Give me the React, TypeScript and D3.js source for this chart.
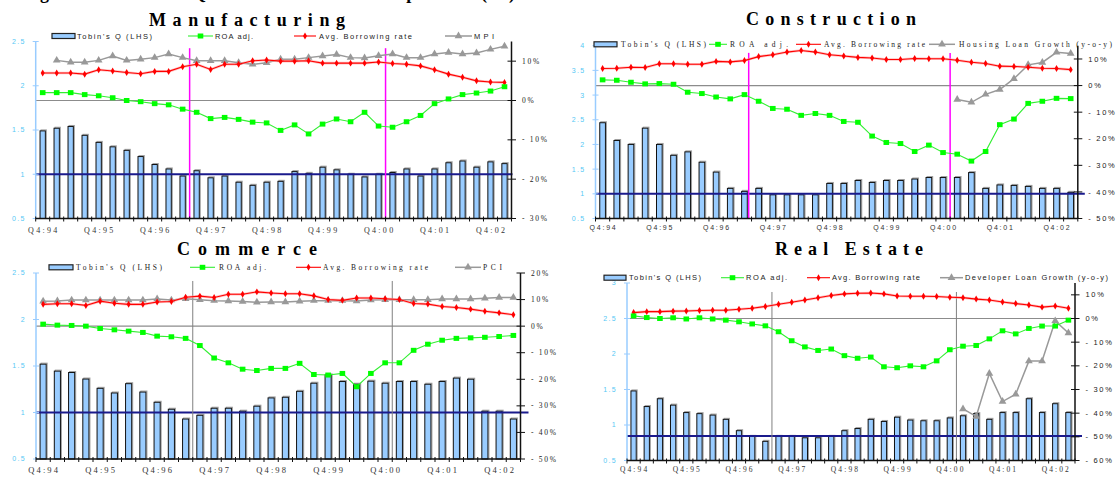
import React from 'react';
import * as d3 from 'd3';

const quarters = [
  'Q4:94', 'Q1:95', 'Q2:95', 'Q3:95', 'Q4:95', 'Q1:96', 'Q2:96', 'Q3:96', 'Q4:96',
  'Q1:97', 'Q2:97', 'Q3:97', 'Q4:97', 'Q1:98', 'Q2:98', 'Q3:98', 'Q4:98',
  'Q1:99', 'Q2:99', 'Q3:99', 'Q4:99', 'Q1:00', 'Q2:00', 'Q3:00', 'Q4:00',
  'Q1:01', 'Q2:01', 'Q3:01', 'Q4:01', 'Q1:02', 'Q2:02', 'Q3:02', 'Q4:02', 'Q1:03',
];

const N = null;

// Manufacturing
const mfgQ = [1.49, 1.52, 1.54, 1.44, 1.36, 1.31, 1.27, 1.2, 1.11, 1.06, 0.98, 1.04, 0.96, 0.98, 0.91, 0.875, 0.91, 0.92, 1.03, 1.01, 1.08, 1.05, 1.0, 0.97, 1.0, 1.02, 1.06, 0.98, 1.06, 1.13, 1.15, 1.08, 1.14, 1.12];
const mfgROA = [2.0, 2.0, 2.0, 1.5, 1.2, 0.7, 0.0, -0.3, -0.8, -1.1, -2.2, -3.0, -4.6, -4.3, -4.8, -5.5, -5.7, -7.6, -6.2, -8.5, -6.0, -4.7, -5.4, -3.0, -6.5, -6.8, -5.4, -3.8, -0.8, 0.4, 1.5, 1.9, 2.4, 3.5];
const mfgRate = [7.0, 7.0, 7.0, 6.7, 7.8, 7.5, 7.1, 6.8, 7.4, 7.4, 8.6, 9.2, 7.9, 9.2, 9.2, 10.1, 10.3, 10.0, 10.0, 10.1, 9.5, 9.5, 9.5, 9.5, 9.8, 9.4, 9.2, 8.8, 7.8, 6.7, 5.9, 5.0, 4.7, 4.6];
const mfgMPI = [N, 10.2, 9.7, 9.7, 10.2, 11.3, 10.2, 10.5, 10.9, 11.8, 10.9, 10.1, 10.1, 10.1, 9.6, 9.2, 9.6, 10.5, 10.5, 10.9, 11.3, 11.7, 10.9, 10.8, 11.4, 11.8, 10.9, 10.9, 11.8, 12.2, 11.8, 12.1, 13.0, 13.8];
const mfgEvents = [11, 25];
const mfgEventTop = 13.3;
const mfgLeftTicks = [0.5, 1, 1.5, 2, 2.5];
const mfgRightTicks = [-30, -20, -10, 0, 10];

// Construction
const conQ = [2.44, 2.08, 2.0, 2.33, 2.0, 1.78, 1.85, 1.64, 1.44, 1.11, 1.05, 1.11, 0.98, 0.98, 0.98, 0.98, 1.21, 1.21, 1.27, 1.23, 1.27, 1.27, 1.3, 1.33, 1.33, 1.33, 1.43, 1.11, 1.18, 1.17, 1.15, 1.11, 1.11, 1.03];
const conROA = [2.15, 2.0, 1.25, 0.64, 0.75, 0.49, -2.5, -3.0, -4.3, -5.0, -3.4, -5.9, -8.6, -8.9, -11.2, -10.5, -11.2, -13.5, -13.8, -19.0, -21.4, -21.8, -24.8, -22.4, -25.2, -25.8, -28.4, -24.8, -14.7, -12.6, -6.7, -5.9, -4.8, -4.9];
const conRate = [6.4, 6.5, 6.9, 6.8, 8.2, 8.2, 8.0, 8.0, 9.1, 8.9, 9.4, 10.9, 11.6, 12.6, 13.2, 12.6, 11.6, 11.1, 10.6, 10.4, 9.8, 9.8, 10.2, 10.1, 10.1, 9.5, 8.8, 8.3, 7.3, 7.2, 6.9, 6.5, 6.4, 6.0];
const conHousing = [N, N, N, N, N, N, N, N, N, N, N, N, N, N, N, N, N, N, N, N, N, N, N, N, N, -5.2, -6.3, -3.3, -1.5, 2.6, 7.8, 8.7, 12.5, 12.1];
const conEvents = [10.8, 25];
const conEventTop = 12.3;
const conLeftTicks = [0.5, 1, 1.5, 2, 2.5, 3, 3.5, 4];
const conRightTicks = [-50, -40, -30, -20, -10, 0, 10];

// Commerce
const comQ = [1.52, 1.445, 1.43, 1.36, 1.26, 1.21, 1.31, 1.22, 1.11, 1.035, 0.93, 0.97, 1.046, 1.046, 1.014, 1.068, 1.157, 1.164, 1.228, 1.315, 1.405, 1.333, 1.304, 1.337, 1.315, 1.333, 1.333, 1.304, 1.333, 1.37, 1.358, 1.014, 1.014, 0.93];
const comROA = [0.75, 0.38, 0.26, 0, -0.88, -1.38, -1.88, -2.37, -3.76, -4.0, -4.6, -7.3, -12.0, -13.8, -16.2, -16.7, -15.9, -15.9, -14.0, -18.2, -18.4, -17.8, -22.8, -17.8, -13.8, -13.8, -9.1, -6.8, -5.3, -4.6, -4.4, -4.2, -3.9, -3.5];
const comRate = [8.2, 8.4, 8.4, 7.8, 9.4, 8.6, 8.2, 8.2, 9.1, 9.3, 10.9, 11.3, 10.8, 12.0, 12.0, 12.9, 12.5, 12.2, 12.2, 11.4, 10.0, 9.7, 10.6, 10.6, 10.3, 10.0, 8.5, 8.3, 7.4, 7.0, 6.4, 5.6, 5.0, 4.3];
const comPCI = [9.4, 9.5, 9.8, 9.8, 9.8, 9.8, 9.8, 9.8, 10.2, 9.8, 10.3, 9.9, 9.6, 9.5, 9.3, 9.0, 9.1, 9.1, 9.4, 9.6, 9.6, 9.6, 9.5, 9.8, 9.9, 9.9, 9.9, 9.9, 10.2, 10.2, 10.2, 10.5, 10.8, 10.8];
const comEvents = [11, 25];
const comEventTop = 17;
const comLeftTicks = [0.5, 1, 1.5, 2, 2.5];
const comRightTicks = [-50, -40, -30, -20, -10, 0, 10, 20];

// Real Estate
const reQ = [1.48, 1.26, 1.37, 1.28, 1.175, 1.16, 1.14, 1.08, 0.92, 0.84, 0.77, 0.84, 0.84, 0.82, 0.82, 0.84, 0.92, 0.95, 1.08, 1.05, 1.11, 1.07, 1.06, 1.06, 1.1, 1.13, 1.16, 1.08, 1.175, 1.175, 1.37, 1.175, 1.3, 1.175];
const reROA = [1.1, 0.4, 0, 0.3, -0.2, 0.3, -0.2, -0.7, -1.4, -2.3, -3.1, -5.6, -9.4, -12.0, -13.5, -12.9, -15.7, -16.8, -16.3, -20.4, -20.8, -20.0, -20.4, -17.9, -13.2, -11.7, -11.4, -8.6, -5.2, -6.5, -4.2, -3.2, -3.2, -0.7];
const reRate = [2.5, 2.9, 2.9, 3.1, 3.2, 3.4, 3.5, 3.5, 3.9, 4.3, 5.1, 6.0, 6.9, 7.8, 8.8, 9.7, 10.4, 10.7, 10.8, 10.4, 9.5, 9.4, 9.4, 9.3, 9.0, 8.8, 8.2, 7.8, 7.0, 6.3, 5.7, 4.8, 5.3, 4.3];
const reDev = [N, N, N, N, N, N, N, N, N, N, N, N, N, N, N, N, N, N, N, N, N, N, N, N, N, -38.2, -41.4, -23.2, -35.1, -32.0, -18.0, -18.0, -1.0, -6.1];
const reEvents = [11, 25];
const reEventTop = 11.2;
const reLeftTicks = [0.5, 1, 1.5, 2, 2.5, 3];
const reRightTicks = [-60, -50, -40, -30, -20, -10, 0, 10];

const legendQ = "Tobin's Q (LHS)";
const legendROA = 'ROA adj.';
const legendRate = 'Avg. Borrowing rate';
const figureTitle = "Figure 5: Tobin's Q and Sectoral Developments (%)";

const SANS = 'Arial, "Liberation Sans", Helvetica, sans-serif';
const SERIF = '"Times New Roman", "Liberation Serif", Times, serif';

type Span = [number, number];
type PanelCfg = {
  title: string; titleSpan: Span; titleY: number;
  x0: number; x1: number; yTop: number; yBot: number;
  leftDomain: [number, number]; leftTicks: number[];
  rightDomain: [number, number]; rightTicks: number[];
  q: number[]; roa: number[]; rate: number[]; other: (number | null)[]; otherName: string;
  qRef: number; events: number[]; eventTop: number; eventColor: string; eventWidth: number;
  barFrac: number; navyExt: number;
  legendY: number; legendFont: string;
  lg: { sw: Span; q: Span; roaL: Span; roa: Span; rateL: Span; rate: Span; othL: Span; oth: Span };
  xFont: string; xDy: number; xSize: number; xSpacing: number; rightFont: string;
};

const panels: PanelCfg[] = [
  {
    title: 'Manufacturing', titleSpan: [149, 345], titleY: 25.5,
    x0: 35.7, x1: 511.5, yTop: 41.5, yBot: 218.5,
    leftDomain: [0.5, 2.5], leftTicks: mfgLeftTicks, rightDomain: [-30, 15], rightTicks: mfgRightTicks,
    q: mfgQ, roa: mfgROA, rate: mfgRate, other: mfgMPI, otherName: 'MPI',
    qRef: 1, events: mfgEvents, eventTop: mfgEventTop, eventColor: '#ff00ff', eventWidth: 1.5,
    barFrac: 0.38, navyExt: 1,
    legendY: 36, legendFont: SANS,
    lg: { sw: [52, 75], q: [77, 152], roaL: [188, 213], roa: [215, 253], rateL: [294, 316], rate: [319, 412], othL: [445, 472], oth: [474, 494] },
    xFont: SERIF, xDy: 14.5, xSize: 8, xSpacing: 2.3, rightFont: SERIF,
  },
  {
    title: 'Construction', titleSpan: [746, 916], titleY: 25,
    x0: 595.5, x1: 1077.8, yTop: 45.7, yBot: 218.5,
    leftDomain: [0.5, 4], leftTicks: conLeftTicks, rightDomain: [-50, 15], rightTicks: conRightTicks,
    q: conQ, roa: conROA, rate: conRate, other: conHousing, otherName: 'Housing Loan Growth (y-o-y)',
    qRef: 1, events: conEvents, eventTop: conEventTop, eventColor: '#ff00ff', eventWidth: 1.5,
    barFrac: 0.4, navyExt: 7,
    legendY: 44.3, legendFont: SERIF,
    lg: { sw: [594, 617], q: [621, 706], roaL: [709, 727], roa: [730, 788], rateL: [796, 821], rate: [824, 925], othL: [929, 955], oth: [959, 1112] },
    xFont: SANS, xDy: 11, xSize: 7, xSpacing: 1.8, rightFont: SANS,
  },
  {
    title: 'Commerce', titleSpan: [177, 317], titleY: 255,
    x0: 36, x1: 520.5, yTop: 273, yBot: 459,
    leftDomain: [0.5, 2.5], leftTicks: comLeftTicks, rightDomain: [-50, 20], rightTicks: comRightTicks,
    q: comQ, roa: comROA, rate: comRate, other: comPCI, otherName: 'PCI',
    qRef: 1, events: comEvents, eventTop: comEventTop, eventColor: '#808080', eventWidth: 1,
    barFrac: 0.43, navyExt: 8,
    legendY: 267.3, legendFont: SERIF,
    lg: { sw: [49, 73], q: [76, 162], roaL: [190, 215], roa: [219, 266], rateL: [296, 321], rate: [323, 428], othL: [455, 481], oth: [483, 502] },
    xFont: SERIF, xDy: 14, xSize: 8.5, xSpacing: 2.1, rightFont: SERIF,
  },
  {
    title: 'Real Estate', titleSpan: [775, 923], titleY: 255,
    x0: 627, x1: 1075, yTop: 283, yBot: 460.5,
    leftDomain: [0.5, 3], leftTicks: reLeftTicks, rightDomain: [-60, 15], rightTicks: reRightTicks,
    q: reQ, roa: reROA, rate: reRate, other: reDev, otherName: 'Developer Loan Growth (y-o-y)',
    qRef: 0.845, events: reEvents, eventTop: reEventTop, eventColor: '#808080', eventWidth: 1,
    barFrac: 0.4, navyExt: 7,
    legendY: 277.7, legendFont: SANS,
    lg: { sw: [604, 626], q: [629, 701], roaL: [721, 744], roa: [746, 787], rateL: [807, 830], rate: [832, 920], othL: [940, 963], oth: [965, 1108] },
    xFont: SERIF, xDy: 11.5, xSize: 7.5, xSpacing: 2.1, rightFont: SANS,
  },
];

const BAR_FILL = '#99ccff';
const GREEN = '#00ff00';
const RED = '#ff0000';
const GREY = '#999999';
const NAVY = '#1a1a8c';
const LEFT_AX = '#99ccff';
const LEFT_LBL = '#55c8f5';

const triPath = d3.symbol().type(d3.symbolTriangle).size(26)() as string;
const diaPath = d3.symbol().type(d3.symbolDiamond).size(14)() as string;

type Pt = { i: number; v: number | null };

function Series({ vals, cx, y, kind }: { vals: (number | null)[]; cx: (i: number) => number; y: d3.ScaleLinear<number, number>; kind: 'roa' | 'rate' | 'oth' }) {
  const pts: Pt[] = vals.map((v, i) => ({ i, v }));
  const line = d3.line<Pt>().defined((d) => d.v != null).x((d) => cx(d.i)).y((d) => y(d.v as number));
  const d = line(pts) || '';
  const present = pts.filter((p) => p.v != null);
  if (kind === 'roa') {
    return (
      <g>
        <path d={d} fill="none" stroke="#33ee33" strokeWidth={1.1} />
        {present.map((p) => (
          <rect key={p.i} x={cx(p.i) - 2.8} y={y(p.v as number) - 2.5} width={5.6} height={5} fill={GREEN} />
        ))}
      </g>
    );
  }
  if (kind === 'rate') {
    return (
      <g>
        <path d={d} fill="none" stroke="#ff9a9a" strokeWidth={2.6} strokeOpacity={0.6} />
        <path d={d} fill="none" stroke={RED} strokeWidth={1.1} />
        {present.map((p) => (
          <path key={p.i} d={diaPath} transform={`translate(${cx(p.i)},${y(p.v as number)})`} fill={RED} />
        ))}
      </g>
    );
  }
  return (
    <g>
      <path d={d} fill="none" stroke={GREY} strokeWidth={1.5} />
      {present.map((p) => (
        <path key={p.i} d={triPath} transform={`translate(${cx(p.i)},${y(p.v as number)})`} fill={GREY} />
      ))}
    </g>
  );
}

function LegendText({ span, y, text, font }: { span: Span; y: number; text: string; font: string }) {
  return (
    <text x={span[0]} y={y + 2.6} textLength={span[1] - span[0]} lengthAdjust="spacing" fontSize={7.5} fontFamily={font} fill="#222">
      {text}
    </text>
  );
}

function Panel({ p }: { p: PanelCfg }) {
  const idx = d3.range(quarters.length);
  const x = d3.scaleBand<number>().domain(idx).range([p.x0, p.x1]).padding(0);
  const bw = x.bandwidth();
  const cx = (i: number) => (x(i) as number) + bw / 2;
  const yL = d3.scaleLinear().domain(p.leftDomain).range([p.yBot, p.yTop]);
  const yR = d3.scaleLinear().domain(p.rightDomain).range([p.yBot, p.yTop]);
  const barW = bw * p.barFrac;
  const boundaries = d3.range(quarters.length + 1).map((k) => p.x0 + k * bw);
  const ly = p.legendY;
  const lg = p.lg;
  const mid = (s: Span) => (s[0] + s[1]) / 2;

  return (
    <g>
      <text x={p.titleSpan[0]} y={p.titleY} textLength={p.titleSpan[1] - p.titleSpan[0]} lengthAdjust="spacing"
        fontFamily={SERIF} fontWeight="bold" fontSize={18} fill="#000">{p.title}</text>

      {p.q.map((v, i) => (
        <g key={i}>
          <rect x={cx(i) - barW / 2 + 1} y={yL(v) - 1} width={barW} height={p.yBot - yL(v)} fill="none" stroke="#a0a0a0" strokeWidth={1} />
          <rect x={cx(i) - barW / 2} y={yL(v)} width={barW} height={p.yBot - yL(v)} fill={BAR_FILL} stroke="#111" strokeWidth={1} />
        </g>
      ))}

      <line x1={p.x0} x2={p.x1} y1={yR(0)} y2={yR(0)} stroke="#8c8c8c" strokeWidth={1.2} />

      <line x1={p.x0} x2={p.x1 + p.navyExt} y1={yL(p.qRef)} y2={yL(p.qRef)} stroke={NAVY} strokeWidth={2} />

      {p.events.map((e, k) => (
        <line key={k} x1={p.x0 + e * bw} x2={p.x0 + e * bw} y1={yR(p.eventTop)} y2={p.yBot} stroke={p.eventColor} strokeWidth={p.eventWidth} />
      ))}

      <Series vals={p.other} cx={cx} y={yR} kind="oth" />
      <Series vals={p.rate} cx={cx} y={yR} kind="rate" />
      <Series vals={p.roa} cx={cx} y={yR} kind="roa" />

      <line x1={p.x0} x2={p.x0} y1={p.yTop} y2={p.yBot} stroke={LEFT_AX} strokeWidth={1.5} />
      {p.leftTicks.map((t) => (
        <g key={t}>
          <line x1={p.x0 - 3} x2={p.x0 + 3} y1={yL(t)} y2={yL(t)} stroke={LEFT_AX} strokeWidth={1} />
          <text x={p.x0 - 10} y={yL(t)} dy="0.35em" textAnchor="end" fontFamily={SANS} fontSize={7} letterSpacing={1.3} fill={LEFT_LBL}>
            {String(t)}
          </text>
        </g>
      ))}

      <line x1={p.x1} x2={p.x1} y1={p.yTop} y2={p.yBot} stroke="#111" strokeWidth={1.5} />
      {p.rightTicks.map((t) => (
        <g key={t}>
          <line x1={p.x1 - 4} x2={p.x1 + 4.5} y1={yR(t)} y2={yR(t)} stroke="#111" strokeWidth={1} />
          <text x={p.x1 + 10.5} y={yR(t)} dy="0.35em" fontFamily={p.rightFont} fontSize={7.5} letterSpacing={1.7} fill="#222">
            {t < 0 ? `- ${Math.abs(t)}%` : `${t}%`}
          </text>
        </g>
      ))}

      <line x1={p.x0} x2={p.x1} y1={p.yBot} y2={p.yBot} stroke="#111" strokeWidth={1.5} />
      {boundaries.map((bx, k) => (
        <line key={k} x1={bx} x2={bx} y1={p.yBot - 2} y2={p.yBot + 3} stroke="#111" strokeWidth={1} />
      ))}
      {quarters.map((q, i) =>
        q.startsWith('Q4') ? (
          <text key={q} x={cx(i) + p.xSpacing / 2} y={p.yBot + p.xDy} textAnchor="middle" fontFamily={p.xFont} fontSize={p.xSize} letterSpacing={p.xSpacing} fill="#333">
            {q}
          </text>
        ) : null
      )}

      <rect x={lg.sw[0]} y={ly - 2.5} width={lg.sw[1] - lg.sw[0]} height={5} fill={BAR_FILL} stroke="#222" strokeWidth={1.2} />
      <LegendText span={lg.q} y={ly} text={legendQ} font={p.legendFont} />
      <line x1={lg.roaL[0]} x2={lg.roaL[1]} y1={ly} y2={ly} stroke="#33ee33" strokeWidth={1.1} />
      <rect x={mid(lg.roaL) - 2.8} y={ly - 2.5} width={5.6} height={5} fill={GREEN} />
      <LegendText span={lg.roa} y={ly} text={legendROA} font={p.legendFont} />
      <line x1={lg.rateL[0]} x2={lg.rateL[1]} y1={ly} y2={ly} stroke={RED} strokeWidth={1.1} />
      <path d={diaPath} transform={`translate(${mid(lg.rateL)},${ly})`} fill={RED} />
      <LegendText span={lg.rate} y={ly} text={legendRate} font={p.legendFont} />
      <line x1={lg.othL[0]} x2={lg.othL[1]} y1={ly} y2={ly} stroke={GREY} strokeWidth={1.5} />
      <path d={triPath} transform={`translate(${mid(lg.othL)},${ly})`} fill={GREY} />
      <LegendText span={lg.oth} y={ly} text={p.otherName} font={p.legendFont} />
    </g>
  );
}

export default function App() {
  return (
    <svg width={1118} height={477} viewBox="0 0 1118 477"
      style={{ position: 'absolute', left: 0, top: 0, background: '#fff', display: 'block' }}>
      <rect x={0} y={0} width={1118} height={477} fill="#fff" />
      <text x={20} y={-1.5} textLength={495} lengthAdjust="spacing" fontFamily={SERIF} fontWeight="bold" fontSize={18} fill="#000">
        {figureTitle}
      </text>
      {panels.map((p) => (
        <Panel key={p.title} p={p} />
      ))}
    </svg>
  );
}
